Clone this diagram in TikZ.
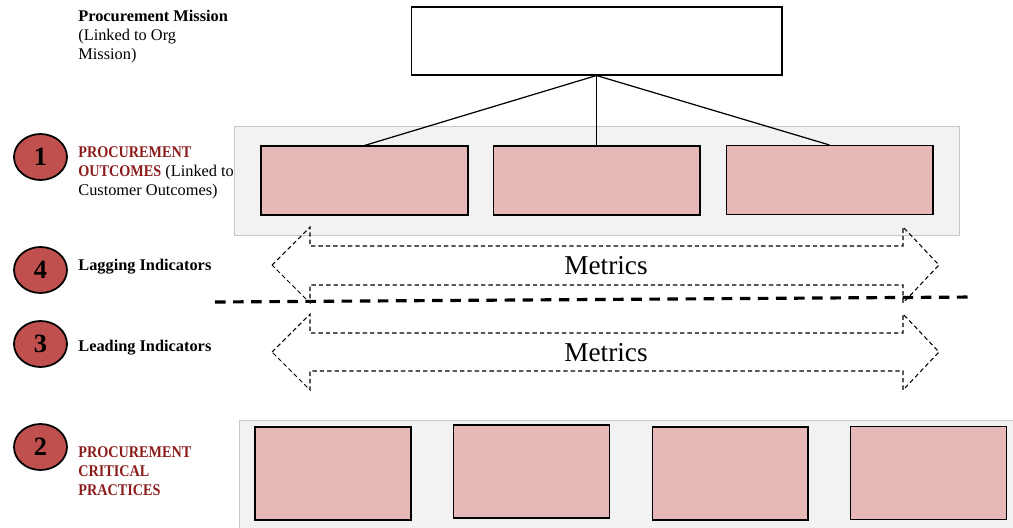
\documentclass[tikz,border=0pt]{standalone}
\usepackage{fontspec}
\setmainfont{Liberation Serif}
\newfontfamily\capsfont[FakeStretch=0.87]{Liberation Serif}
\usetikzlibrary{shapes.geometric}

\definecolor{boxpink}{HTML}{E6B8B7}
\definecolor{panelgrey}{HTML}{F2F2F2}
\definecolor{panelline}{HTML}{C8C8C8}
\definecolor{headred}{HTML}{8C1C1C}
\definecolor{badgered}{HTML}{C0504D}

\begin{document}
\begin{tikzpicture}[x=0.02cm,y=-0.02cm,
        box/.style={draw,fill=boxpink,line width=0.6pt,inner sep=0pt},
        panel/.style={draw=panelline,fill=panelgrey,line width=0.5pt},
        badge/.style={ellipse,draw,line width=1pt,fill=badgered,inner sep=0pt,
          minimum width=1.06cm,minimum height=0.92cm,font=\fontsize{15}{15}\selectfont\bfseries},
        lbl/.style={inner sep=0pt,align=left,font=\fontsize{9.3}{10.8}\selectfont},
        metric/.style={draw,dash pattern=on 2.5pt off 1.7pt,line width=0.6pt}]

        \useasboundingbox (0,0) rectangle (1013,527);

        % panels behind the boxes
        \draw[panel] (234,126) rectangle (959,235);
        \draw[panel] (239,420) rectangle (1014,528);

        \node at (596.5,41) [box,fill=white,minimum width=7.42cm,minimum height=1.36cm] (mission) {};

        \node at (364.5,180.5) [box,minimum width=4.14cm,minimum height=1.38cm] (out1) {};
        \node at (596.5,180.5) [box,minimum width=4.14cm,minimum height=1.38cm] (out2) {};
        \node at (829.5,180) [box,minimum width=4.14cm,minimum height=1.38cm] (out3) {};

        \node at (333,473.5) [box,minimum width=3.12cm,minimum height=1.86cm] (prac1) {};
        \node at (531.5,471.5) [box,minimum width=3.12cm,minimum height=1.86cm] (prac2) {};
        \node at (730,473.5) [box,minimum width=3.12cm,minimum height=1.86cm] (prac3) {};
        \node at (928.5,473) [box,minimum width=3.12cm,minimum height=1.86cm] (prac4) {};

        \path[line width=0.7pt]
        (mission.south) edge (out1.north)
        (mission.south) edge (out2.north)
        (mission.south) edge (out3.north);

        % metrics arrows
        \path[metric] (272,265) -- (310,227) -- (310,246) -- (903,246) -- (903,227) -- (939,265)
          -- (903,303) -- (903,285) -- (310,285) -- (310,303) -- cycle;
        \path[metric] (272,352) -- (310,314) -- (310,333) -- (903,333) -- (903,314) -- (939,352)
          -- (903,390) -- (903,371) -- (310,371) -- (310,390) -- cycle;
        \node at (606,266) [font=\fontsize{15.5}{16}\selectfont] (lagmetrics) {Metrics};
        \node at (606,353) [font=\fontsize{15.5}{16}\selectfont] (leadmetrics) {Metrics};

        \draw[line width=1.8pt,dash pattern=on 6pt off 4.3pt] (215,302) -- (975,297);

        % numbered badges
        \node at (40.5,157) [badge] (one) {1};
        \node at (40.5,270) [badge] (four) {4};
        \node at (40.5,344) [badge] (three) {3};
        \node at (40.5,447) [badge] (two) {2};

        \node at (78,10) [lbl,anchor=north west] (missionlbl)
          {\textbf{Procurement Mission}\\(Linked to Org\\Mission)};
        \node at (78,146) [lbl,anchor=north west] (outlbl)
          {{\capsfont\bfseries\color{headred}PROCUREMENT}\\{\capsfont\bfseries\color{headred}OUTCOMES} (Linked to\\Customer Outcomes)};
        \node at (78,270.5) [lbl,anchor=base west,font=\fontsize{9.3}{10.8}\selectfont\bfseries] (lagging) {Lagging Indicators};
        \node at (78,351.5) [lbl,anchor=base west,font=\fontsize{9.3}{10.8}\selectfont\bfseries] (leading) {Leading Indicators};
        \node at (78,446) [lbl,anchor=north west,text=headred,font=\fontsize{9.3}{10.8}\selectfont\capsfont\bfseries] (praclbl)
          {PROCUREMENT\\CRITICAL\\PRACTICES};

      \end{tikzpicture}
\end{document}
